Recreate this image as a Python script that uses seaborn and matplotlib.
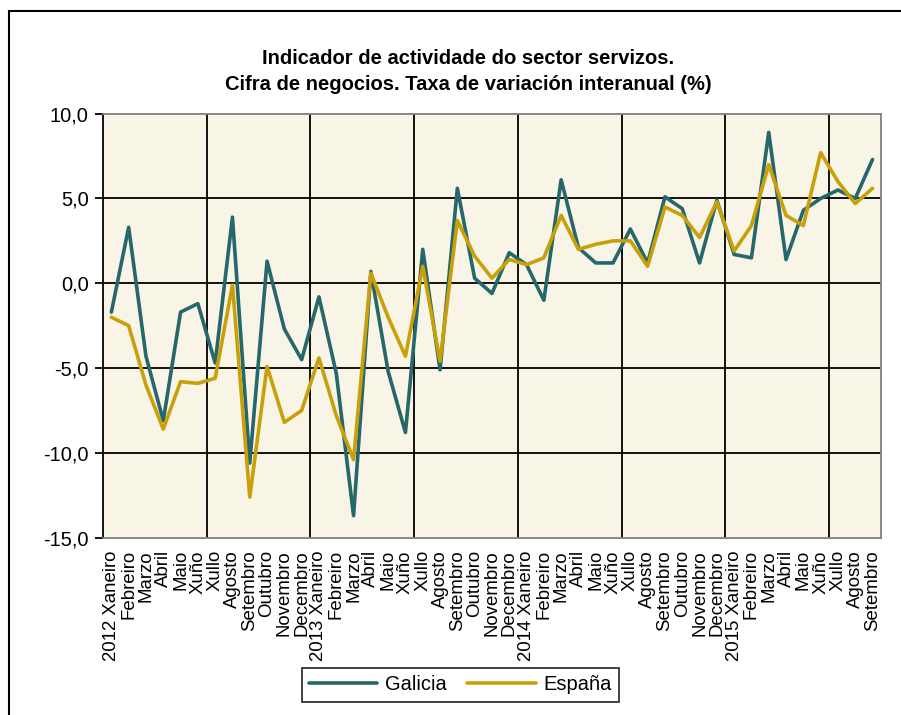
import numpy as np
import pandas as pd
import matplotlib
matplotlib.use("Agg")
import matplotlib.pyplot as plt
import seaborn as sns
from matplotlib.patches import Rectangle
from matplotlib.ticker import FuncFormatter, FixedLocator

# month labels, Xaneiro 2012 .. Setembro 2015
months = ["Xaneiro", "Febreiro", "Marzo", "Abril", "Maio", "Xuño", "Xullo",
          "Agosto", "Setembro", "Outubro", "Novembro", "Decembro"]
years = [2012, 2013, 2014, 2015]
labels = []
for y in years:
    for m in months:
        labels.append(f"{y} {m}" if m == "Xaneiro" else m)
labels = labels[:45]

galicia = [-1.7, 3.3, -4.3, -8.1, -1.7, -1.2, -4.7, 3.9, -10.6, 1.3, -2.7, -4.5,
           -0.8, -5.3, -13.7, 0.7, -5.2, -8.8, 2.0, -5.1, 5.6, 0.3, -0.6, 1.8,
           1.1, -1.0, 6.1, 2.1, 1.2, 1.2, 3.2, 1.2, 5.1, 4.4, 1.2, 4.9,
           1.7, 1.5, 8.9, 1.4, 4.3, 5.0, 5.5, 5.0, 7.3]
espana = [-2.0, -2.5, -6.0, -8.6, -5.8, -5.9, -5.6, -0.1, -12.6, -4.9, -8.2, -7.5,
          -4.4, -7.8, -10.4, 0.6, -2.0, -4.3, 1.0, -4.6, 3.7, 1.6, 0.3, 1.4,
          1.1, 1.5, 4.0, 2.0, 2.3, 2.5, 2.5, 1.0, 4.5, 4.0, 2.7, 4.8,
          1.9, 3.4, 7.0, 4.0, 3.4, 7.7, 6.0, 4.7, 5.6]

df = pd.DataFrame({
    "idx": list(range(45)) * 2,
    "valor": galicia + espana,
    "serie": ["Galicia"] * 45 + ["España"] * 45,
})

sns.set_style("white")
plt.rcParams["font.family"] = ["Liberation Sans", "DejaVu Sans"]
plt.rcParams["text.color"] = "black"
plt.rcParams["xtick.color"] = "black"
plt.rcParams["ytick.color"] = "black"

fig = plt.figure(figsize=(9.01, 7.15), dpi=100)
ax = fig.add_axes([0.114, 0.248, 0.864, 0.593])
ax.set_facecolor("#F8F4E6")

sns.lineplot(data=df, x="idx", y="valor", hue="serie",
             palette={"Galicia": "#25676B", "España": "#C9A00A"},
             linewidth=2.6, ax=ax, legend=True)

ax.set_xlim(-0.5, 44.5)
ax.set_ylim(-15, 10)
ax.set_yticks([-15, -10, -5, 0, 5, 10])
ax.yaxis.set_major_formatter(FuncFormatter(lambda v, p: f"{v:.1f}".replace(".", ",")))
ax.tick_params(axis="y", labelsize=14.5, length=6, width=1.3, color="black",
               labelcolor="black", direction="out", left=True, pad=4)

ax.set_xticks(range(45))
ax.set_xticklabels(labels, rotation=90, fontsize=13.4, va="top")
ax.tick_params(axis="x", length=0, pad=9, labelcolor="black")
ax.xaxis.set_minor_locator(FixedLocator([5.5, 11.5, 17.5, 23.5, 29.5, 35.5, 41.5]))
ax.grid(False)
ax.grid(which="minor", axis="x", color="black", linewidth=1.3)
for yv in [-10, -5, 0, 5]:
    ax.axhline(yv, color="black", linewidth=1.3, zorder=1)
ax.tick_params(axis="x", which="minor", length=0)
for ln in ax.lines[:2]:
    ln.set_zorder(3)

ax.set_xlabel("")
ax.set_ylabel("")
for s in ["top", "right", "bottom"]:
    ax.spines[s].set_color("#808080")
    ax.spines[s].set_linewidth(1.3)
ax.spines["left"].set_color("black")
ax.spines["left"].set_linewidth(1.3)

leg = ax.legend(loc="center", bbox_to_anchor=(0.511, 0.042), bbox_transform=fig.transFigure,
                ncol=2, fontsize=14.5, frameon=True, fancybox=False, handlelength=3.4,
                borderpad=0.35, columnspacing=1.0, handletextpad=0.4)
leg.get_frame().set_edgecolor("black")
leg.get_frame().set_linewidth(1.3)
for t in leg.get_texts():
    t.set_color("black")

fig.text(0.52, 0.9, "Indicador de actividade do sector servizos.\nCifra de negocios. Taxa de variación interanual (%)",
         ha="center", va="center", fontsize=14.5, fontweight="bold", linespacing=1.45,
         color="black")

fig.patches.append(Rectangle((0.01, -0.1), 1.2, 1.0846, transform=fig.transFigure,
                             fill=False, edgecolor="black", linewidth=1.5))

fig.savefig("out.png", dpi=100)
